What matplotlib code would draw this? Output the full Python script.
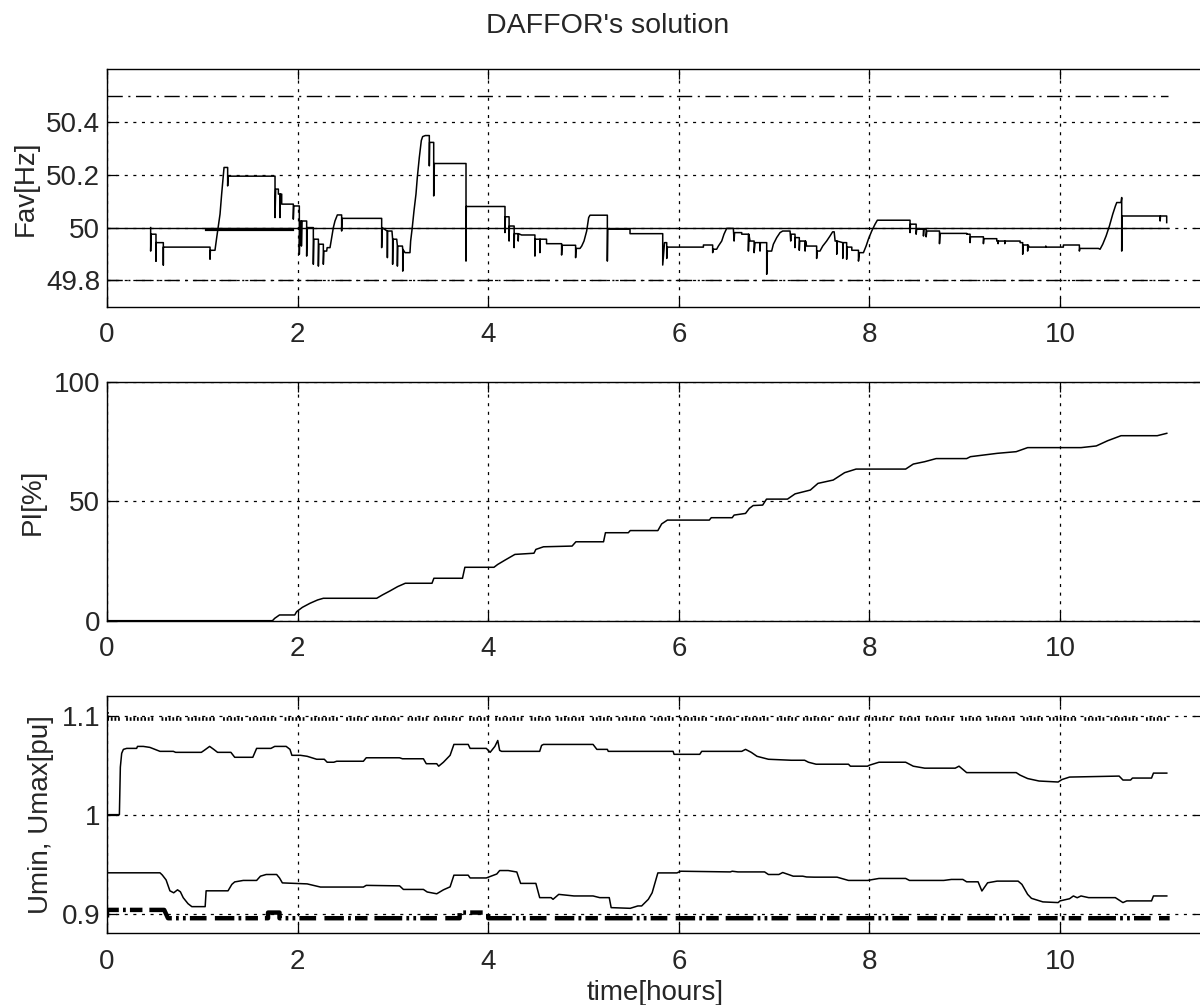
import matplotlib
matplotlib.use("Agg")
import matplotlib.pyplot as plt

plt.rcParams['font.family'] = ['Liberation Sans', 'DejaVu Sans']
plt.rcParams['lines.scale_dashes'] = False

# ---------------- data ----------------
# average frequency [Hz] vs time [hours]
fav_t = [0.458, 0.458, 0.462, 0.500, 0.514, 0.514, 0.514, 0.556, 0.591, 0.591, 0.591,
         1.081, 1.081, 1.085, 1.133, 1.151, 1.186, 1.203, 1.228, 1.266, 1.266, 1.270,
         1.763, 1.763, 1.770, 1.798, 1.798, 1.815, 1.815, 1.818, 1.833, 1.833, 1.938,
         1.955, 1.955, 1.960, 2.018, 2.018, 2.025, 2.040, 2.040, 2.045, 2.095, 2.095,
         2.100, 2.165, 2.165, 2.170, 2.218, 2.218, 2.222, 2.270, 2.270, 2.275, 2.305,
         2.310, 2.340, 2.357, 2.375, 2.392, 2.417, 2.462, 2.462, 2.466, 2.882, 2.882,
         2.886, 2.940, 2.942, 2.945, 2.990, 2.997, 2.997, 3.000, 3.040, 3.047, 3.047,
         3.050, 3.100, 3.103, 3.103, 3.106, 3.127, 3.179, 3.186, 3.203, 3.221, 3.242,
         3.256, 3.277, 3.298, 3.312, 3.340, 3.382, 3.382, 3.385, 3.428, 3.428, 3.435,
         3.767, 3.767, 3.770, 4.176, 4.176, 4.180, 4.219, 4.219, 4.222, 4.272, 4.272,
         4.275, 4.315, 4.315, 4.318, 4.350, 4.490, 4.490, 4.493, 4.542, 4.542, 4.545,
         4.612, 4.612, 4.770, 4.770, 4.775, 4.917, 4.917, 4.921, 4.963, 4.981, 5.005,
         5.033, 5.054, 5.068, 5.250, 5.250, 5.254, 5.488, 5.488, 5.831, 5.831, 5.850,
         5.873, 5.873, 5.880, 6.258, 6.258, 6.355, 6.355, 6.362, 6.397, 6.415, 6.450,
         6.474, 6.502, 6.572, 6.580, 6.585, 6.660, 6.660, 6.730, 6.730, 6.735, 6.747,
         6.790, 6.790, 6.800, 6.852, 6.852, 6.856, 6.922, 6.922, 6.929, 6.974, 6.992,
         7.027, 7.062, 7.090, 7.167, 7.174, 7.178, 7.219, 7.219, 7.222, 7.264, 7.264,
         7.268, 7.325, 7.325, 7.330, 7.341, 7.446, 7.446, 7.450, 7.481, 7.510, 7.551,
         7.586, 7.614, 7.630, 7.640, 7.657, 7.657, 7.660, 7.720, 7.720, 7.724, 7.761,
         7.761, 7.765, 7.815, 7.815, 7.885, 7.885, 7.895, 7.937, 7.965, 7.989, 8.024,
         8.059, 8.083, 8.426, 8.426, 8.430, 8.490, 8.490, 8.496, 8.567, 8.567, 8.571,
         8.595, 8.595, 8.602, 8.735, 8.735, 8.741, 9.021, 9.021, 9.056, 9.056, 9.060,
         9.196, 9.196, 9.200, 9.336, 9.336, 9.350, 9.350, 9.354, 9.420, 9.420, 9.424,
         9.581, 9.581, 9.608, 9.608, 9.612, 9.660, 9.660, 9.664, 9.678, 9.850, 9.850,
         9.860, 10.035, 10.035, 10.203, 10.203, 10.207, 10.402, 10.420, 10.448, 10.483,
         10.518, 10.553, 10.581, 10.595, 10.640, 10.647, 10.647, 10.652, 11.050, 11.050,
         11.054, 11.119, 11.119]
fav_f = [50.000, 49.911, 49.975, 49.975, 49.975, 49.873, 49.943, 49.943, 49.943, 49.858, 49.926,
         49.926, 49.880, 49.914, 49.914, 49.962, 50.051, 50.127, 50.228, 50.228, 50.158, 50.195,
         50.195, 50.038, 50.146, 50.146, 50.127, 50.127, 50.038, 50.127, 50.127, 50.089, 50.089,
         50.089, 50.032, 50.082, 50.082, 49.899, 50.025, 50.025, 49.930, 50.025, 50.025, 49.892,
         50.000, 50.000, 49.861, 49.956, 49.956, 49.854, 49.937, 49.937, 49.861, 49.911, 49.911,
         49.924, 49.924, 49.962, 50.000, 50.025, 50.048, 50.048, 49.987, 50.035, 50.035, 49.924,
         50.000, 49.987, 49.886, 49.987, 49.987, 49.956, 49.861, 49.956, 49.956, 49.930, 49.854,
         49.930, 49.930, 49.917, 49.835, 49.917, 49.905, 49.905, 49.949, 50.000, 50.063, 50.127,
         50.190, 50.266, 50.330, 50.345, 50.349, 50.349, 50.234, 50.323, 50.323, 50.120, 50.243,
         50.243, 49.873, 50.080, 50.080, 49.981, 50.041, 50.041, 49.949, 50.006, 50.006, 49.924,
         49.977, 49.977, 49.949, 49.977, 49.972, 49.972, 49.892, 49.956, 49.956, 49.905, 49.956,
         49.956, 49.939, 49.939, 49.896, 49.933, 49.933, 49.886, 49.921, 49.921, 49.930, 49.949,
         49.987, 50.038, 50.047, 50.047, 49.873, 49.994, 49.994, 49.977, 49.977, 49.858, 49.943,
         49.943, 49.883, 49.926, 49.926, 49.934, 49.934, 49.905, 49.918, 49.918, 49.930, 49.949,
         49.975, 49.997, 49.997, 49.949, 49.981, 49.981, 49.975, 49.975, 49.911, 49.975, 49.949,
         49.949, 49.905, 49.943, 49.943, 49.911, 49.943, 49.943, 49.823, 49.911, 49.911, 49.937,
         49.962, 49.981, 49.987, 49.987, 49.949, 49.975, 49.975, 49.924, 49.962, 49.962, 49.914,
         49.949, 49.949, 49.911, 49.949, 49.930, 49.930, 49.883, 49.911, 49.911, 49.930, 49.949,
         49.968, 49.984, 49.984, 49.949, 49.949, 49.899, 49.949, 49.943, 49.883, 49.943, 49.943,
         49.880, 49.926, 49.926, 49.914, 49.914, 49.873, 49.905, 49.905, 49.930, 49.956, 49.987,
         50.013, 50.028, 50.028, 49.981, 50.013, 50.013, 49.975, 49.994, 49.994, 49.968, 49.994,
         49.994, 49.965, 49.987, 49.987, 49.939, 49.978, 49.978, 49.975, 49.975, 49.943, 49.965,
         49.965, 49.939, 49.958, 49.958, 49.949, 49.949, 49.939, 49.949, 49.949, 49.939, 49.949,
         49.949, 49.943, 49.943, 49.899, 49.934, 49.934, 49.911, 49.934, 49.926, 49.926, 49.930,
         49.926, 49.926, 49.934, 49.934, 49.911, 49.921, 49.921, 49.918, 49.937, 49.968,
         50.006, 50.051, 50.082, 50.095, 50.095, 50.114, 49.911, 50.044, 50.044, 50.025,
         50.044, 50.044, 50.019]

# nominal frequency and frequency band limits [Hz]
f_nominal = 50.0
f_upper = 50.5
f_lower = 49.8
t_end = 11.13
# interval where the nominal marker is drawn heavier
nominal_bold_t = [1.04, 1.94]
nominal_bold_f = 49.996

# performance index PI [%]
pi_t = [0.0, 1.736, 1.76, 1.81, 1.97, 1.99, 2.05, 2.13, 2.21, 2.27, 2.83, 2.89, 2.97, 3.05,
        3.13, 3.41, 3.43, 3.73, 3.755, 4.06, 4.10, 4.18, 4.28, 4.48, 4.50, 4.58, 4.88,
        4.92, 5.21, 5.23, 5.47, 5.49, 5.78, 5.82, 5.88, 6.32, 6.34, 6.56, 6.58, 6.70,
        6.74, 6.78, 6.88, 6.92, 7.14, 7.22, 7.38, 7.46, 7.62, 7.74, 7.86, 8.38, 8.46,
        8.58, 8.70, 9.02, 9.06, 9.34, 9.54, 9.66, 10.22, 10.38, 10.50, 10.64, 11.02, 11.12]
pi_v = [0.0, 0.0, 1.0, 2.4, 2.4, 3.8, 5.6, 7.3, 8.7, 9.4, 9.4, 10.8, 12.5, 14.3,
        15.7, 15.7, 17.8, 17.8, 22.4, 22.4, 23.6, 25.5, 27.8, 28.3, 29.9, 31.0, 31.3,
        33.1, 33.1, 36.9, 36.9, 37.8, 37.8, 40.6, 42.2, 42.2, 43.2, 43.2, 44.3, 45.0,
        47.1, 48.3, 48.5, 51.0, 51.0, 53.2, 54.8, 57.6, 59.0, 62.1, 63.6, 63.6, 65.7,
        66.7, 68.0, 68.0, 68.8, 70.2, 70.9, 72.6, 72.6, 73.3, 75.5, 77.6, 77.6, 78.6]

# maximum bus voltage [pu]
umax_t = [0.0, 0.130, 0.140, 0.154, 0.172, 0.207, 0.311, 0.320, 0.381, 0.45, 0.556, 0.696,
          0.72, 0.99, 1.02, 1.077, 1.12, 1.16, 1.30, 1.34, 1.53, 1.57, 1.72, 1.76, 1.88,
          1.92, 1.94, 2.03, 2.10, 2.20, 2.28, 2.31, 2.38, 2.41, 2.69, 2.72, 3.07, 3.10,
          3.32, 3.35, 3.46, 3.48, 3.53, 3.60, 3.64, 3.79, 3.81, 3.98, 4.02, 4.07, 4.10,
          4.12, 4.14, 4.54, 4.56, 4.58, 5.10, 5.14, 5.25, 5.26, 5.94, 5.95, 6.22, 6.24,
          6.66, 6.70, 6.76, 6.82, 6.94, 7.18, 7.32, 7.36, 7.44, 7.78, 7.80, 7.98, 8.00,
          8.10, 8.38, 8.46, 8.58, 8.90, 8.94, 9.02, 9.54, 9.58, 9.66, 9.78, 9.98, 10.02,
          10.10, 10.62, 10.66, 10.74, 10.76, 10.96, 10.98, 11.12]
umax_v = [1.000, 1.000, 1.048, 1.062, 1.066, 1.067, 1.067, 1.069, 1.069, 1.068, 1.064, 1.064,
          1.063, 1.063, 1.065, 1.069, 1.066, 1.063, 1.063, 1.058, 1.058, 1.067, 1.067, 1.069, 1.069,
          1.066, 1.060, 1.060, 1.059, 1.056, 1.056, 1.053, 1.053, 1.054, 1.054, 1.0575, 1.0575, 1.0565,
          1.0565, 1.0515, 1.0515, 1.049, 1.053, 1.060, 1.071, 1.071, 1.067, 1.067, 1.063, 1.069, 1.075,
          1.065, 1.064, 1.064, 1.070, 1.071, 1.071, 1.066, 1.066, 1.064, 1.064, 1.061, 1.061, 1.064,
          1.064, 1.066, 1.063, 1.059, 1.056, 1.055, 1.055, 1.053, 1.051, 1.051, 1.049, 1.049, 1.050,
          1.053, 1.053, 1.049, 1.047, 1.047, 1.049, 1.0425, 1.0425, 1.040, 1.0365, 1.034, 1.033, 1.0355,
          1.038, 1.039, 1.035, 1.035, 1.037, 1.037, 1.042, 1.042]

# minimum bus voltage [pu]
umin_t = [0.0, 0.556, 0.58, 0.62, 0.66, 0.70, 0.74, 0.77, 0.80, 0.85, 0.89, 1.03, 1.04,
          1.27, 1.31, 1.34, 1.43, 1.57, 1.61, 1.67, 1.78, 1.81, 1.84, 2.10, 2.24, 2.69,
          2.72, 3.07, 3.11, 3.32, 3.36, 3.46, 3.53, 3.60, 3.64, 3.79, 3.81, 3.98, 4.09,
          4.12, 4.21, 4.30, 4.34, 4.50, 4.54, 4.66, 4.68, 4.74, 4.90, 5.10, 5.17, 5.27,
          5.29, 5.49, 5.57, 5.61, 5.68, 5.72, 5.78, 5.98, 6.02, 6.54, 6.56, 6.62, 6.90,
          6.94, 7.05, 7.09, 7.15, 7.20, 7.30, 7.34, 7.42, 7.66, 7.78, 7.98, 8.10, 8.38,
          8.42, 8.78, 8.86, 8.98, 9.02, 9.14, 9.18, 9.24, 9.34, 9.56, 9.60, 9.66, 9.70,
          9.82, 9.98, 10.00, 10.10, 10.14, 10.18, 10.22, 10.30, 10.58, 10.66, 10.70,
          10.96, 10.98, 11.12]
umin_v = [0.9412, 0.9412, 0.939, 0.934, 0.923, 0.921, 0.924, 0.922, 0.916, 0.910, 0.907, 0.907, 0.923,
          0.923, 0.9295, 0.932, 0.9335, 0.9335, 0.9378, 0.9395, 0.9395, 0.936, 0.931, 0.930, 0.9268, 0.9268,
          0.9285, 0.928, 0.9244, 0.9244, 0.9218, 0.920, 0.924, 0.927, 0.9388, 0.9388, 0.936, 0.936, 0.940,
          0.9435, 0.9435, 0.942, 0.9305, 0.9305, 0.9161, 0.9161, 0.9144, 0.9194, 0.9178, 0.9178, 0.9161, 0.9161,
          0.906, 0.9053, 0.9077, 0.9077, 0.9144, 0.921, 0.9411, 0.9411, 0.9428, 0.9421, 0.9428, 0.9421, 0.9421,
          0.9395, 0.9395, 0.9415, 0.9395, 0.9378, 0.9378, 0.937, 0.9368, 0.9368, 0.9335, 0.9335, 0.9355, 0.9355,
          0.9335, 0.9335, 0.9345, 0.9345, 0.9321, 0.9321, 0.9228, 0.9311, 0.9328, 0.9328, 0.9295, 0.9194, 0.9154,
          0.9118, 0.9111, 0.9128, 0.915, 0.9178, 0.916, 0.9178, 0.9161, 0.9161, 0.9111, 0.9128,
          0.9128, 0.9178, 0.9178]

# voltage band traces [pu]
uhi_t = [0.0, 0.0, 11.15]
uhi_v = [1.104, 1.0967, 1.0967]
ulo_t = [0.0, 0.0, 0.60, 0.64, 1.69, 1.69, 1.81, 1.81, 3.70, 3.70, 4.00, 4.00, 11.15]
ulo_v = [0.896, 0.9037, 0.9037, 0.8953, 0.8953, 0.901, 0.901, 0.8953, 0.8953, 0.901, 0.901, 0.8953, 0.8953]

x_ticks = [0, 2, 4, 6, 8, 10]
x_ticklabels = ['0', '2', '4', '6', '8', '10']
f_ticks = [49.8, 50.0, 50.2, 50.4]
f_ticklabels = ['49.8', '50', '50.2', '50.4']
pi_ticks = [0, 50, 100]
pi_ticklabels = ['0', '50', '100']
u_ticks = [0.9, 1.0, 1.1]
u_ticklabels = ['0.9', '1', '1.1']

# ---------------- figure ----------------
TXT = '#262626'
FS = 20
fig = plt.figure(figsize=(12, 10.05), dpi=100)
left = 107 / 1200
width = 1096 / 1200
ax1 = fig.add_axes([left, 0.6948, width, 0.2362])
ax2 = fig.add_axes([left, 0.3824, width, 0.2372])
ax3 = fig.add_axes([left, 0.0713, width, 0.2362])

grid_style = (0, (2.2, 4.0))
for ax in (ax1, ax2, ax3):
    ax.set_xlim(0, 11.5)
    ax.set_xticks(x_ticks)
    ax.set_xticklabels(x_ticklabels)
    ax.grid(True, color='k', linestyle=grid_style, linewidth=0.9)
    ax.set_axisbelow(True)
    ax.tick_params(direction='in', length=7, width=0.9, top=True, right=True,
                   labelsize=FS, labelcolor=TXT)
    ax.tick_params(axis='x', pad=11)
    ax.tick_params(axis='y', pad=5)
    for s in ax.spines.values():
        s.set_linewidth(1.0)
        s.set_color('k')

lw = 1.1
# frequency panel
band_style = (0, (11, 4, 1.5, 4))
ax1.plot([0, t_end], [f_upper, f_upper], color='k', lw=1.0, linestyle=band_style)
ax1.plot([0, t_end], [f_lower, f_lower], color='k', lw=1.0, linestyle=band_style)
ax1.plot([0, t_end], [f_nominal, f_nominal], color='k', lw=1.0)
ax1.plot(nominal_bold_t, [nominal_bold_f, nominal_bold_f], color='k', lw=2.3)
ax1.plot(fav_t, fav_f, color='k', lw=lw)
ax1.set_ylim(49.7, 50.6)
ax1.set_yticks(f_ticks)
ax1.set_yticklabels(f_ticklabels)
ax1.set_ylabel('Fav[Hz]', fontsize=FS, color=TXT)
ax1.yaxis.set_label_coords(-0.0625, 0.5)

# performance index panel
ax2.plot(pi_t, pi_v, color='k', lw=lw)
ax2.set_ylim(0, 100)
ax2.set_yticks(pi_ticks)
ax2.set_yticklabels(pi_ticklabels)
ax2.set_ylabel('PI[%]', fontsize=FS, color=TXT)
ax2.yaxis.set_label_coords(-0.0557, 0.5)

# voltage panel
hi_style = (0, (1.3, 1.3, 1.3, 1.3, 1.3, 1.3, 1.3, 1.3, 1.3, 1.3, 1.3, 4.5,
                1.3, 1.3, 1.3, 1.3, 1.3, 1.3, 1.3, 1.3, 1.3, 1.3, 1.3, 1.3, 1.3, 1.3, 1.3, 6.0))
lo_style = (0, (14, 3, 2, 3, 9, 5, 20, 3, 2, 3, 2, 3, 12, 6))
ax3.plot(uhi_t, uhi_v, color='k', lw=2.6, linestyle=hi_style)
ax3.plot(ulo_t, ulo_v, color='k', lw=3.2, linestyle=lo_style)
ax3.plot(umax_t, umax_v, color='k', lw=lw)
ax3.plot(umin_t, umin_v, color='k', lw=lw)
ax3.set_ylim(0.88, 1.12)
ax3.set_yticks(u_ticks)
ax3.set_yticklabels(u_ticklabels)
ax3.set_ylabel('Umin, Umax[pu]', fontsize=FS, color=TXT)
ax3.yaxis.set_label_coords(-0.0487, 0.5)
ax3.set_xlabel('time[hours]', fontsize=FS, color=TXT)
ax3.xaxis.set_label_coords(0.5, -0.195)

fig.text(608 / 1200, 1 - 33 / 1005, "DAFFOR's solution", ha='center', va='baseline',
         fontsize=20.5, color=TXT)

fig.savefig('out.png', dpi=100)
